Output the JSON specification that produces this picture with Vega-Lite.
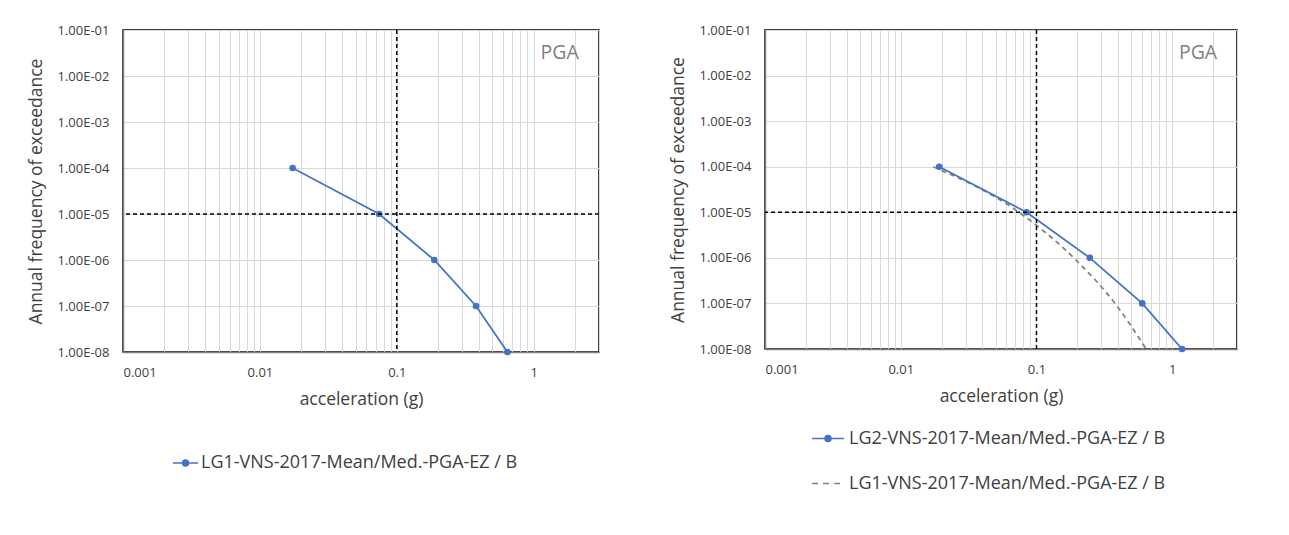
{
  "$schema": "https://vega.github.io/schema/vega-lite/v6.json",
  "padding": {"top": 23, "left": 26, "right": 0, "bottom": 0},
  "background": "#ffffff",
  "config": {
    "font": "Open Sans",
    "view": {"stroke": "#000000", "strokeWidth": 1.5},
    "axis": {
      "gridColor": "#d9d9d9", "gridWidth": 1, "domainColor": "#808080", "domainWidth": 1.5,
      "ticks": false, "labelFont": "Open Sans", "labelFontSize": 13, "labelColor": "#404040",
      "titleFont": "Open Sans", "titleFontSize": 17.5, "titleFontWeight": "normal", "titleColor": "#404040",
      "labelOverlap": false
    },
    "legend": {"labelFont": "Open Sans", "labelFontSize": 18, "labelColor": "#404040", "labelLimit": 0, "padding": 0}
  },
  "datasets": {
    "lg1": [
      {"a": 0.01735, "f": 1e-4, "series": "LG1-VNS-2017-Mean/Med.-PGA-EZ / B"},
      {"a": 0.0743, "f": 1e-5, "series": "LG1-VNS-2017-Mean/Med.-PGA-EZ / B"},
      {"a": 0.188, "f": 1e-6, "series": "LG1-VNS-2017-Mean/Med.-PGA-EZ / B"},
      {"a": 0.379, "f": 1e-7, "series": "LG1-VNS-2017-Mean/Med.-PGA-EZ / B"},
      {"a": 0.643, "f": 1e-8, "series": "LG1-VNS-2017-Mean/Med.-PGA-EZ / B"}
    ],
    "lg2": [
      {"a": 0.0192, "f": 1e-4, "series": "LG2-VNS-2017-Mean/Med.-PGA-EZ / B"},
      {"a": 0.0845, "f": 1e-5, "series": "LG2-VNS-2017-Mean/Med.-PGA-EZ / B"},
      {"a": 0.247, "f": 1e-6, "series": "LG2-VNS-2017-Mean/Med.-PGA-EZ / B"},
      {"a": 0.601, "f": 1e-7, "series": "LG2-VNS-2017-Mean/Med.-PGA-EZ / B"},
      {"a": 1.18, "f": 1e-8, "series": "LG2-VNS-2017-Mean/Med.-PGA-EZ / B"}
    ],
    "vref": [{"a": 0.1}],
    "href": [{"f": 1e-5}]
  },
  "resolve": {"scale": {"color": "independent", "stroke": "independent", "x": "independent", "y": "independent"}, "legend": {"color": "independent", "stroke": "independent"}},
  "spacing": 67,
  "hconcat": [
    {
      "width": 476, "height": 322,
      "layer": [
        {
          "data": {"name": "lg1"},
          "mark": {"type": "line", "strokeWidth": 1.75, "point": {"filled": true, "size": 44}},
          "encoding": {
            "x": {"field": "a", "type": "quantitative",
              "scale": {"type": "log", "domain": [0.001, 3], "nice": false},
              "axis": {"title": "acceleration (g)", "values": [0.001,0.002,0.003,0.004,0.005,0.006,0.007,0.008,0.009,0.01,0.02,0.03,0.04,0.05,0.06,0.07,0.08,0.09,0.1,0.2,0.3,0.4,0.5,0.6,0.7,0.8,0.9,1,2,3],
                "labelExpr": "abs(log(datum.value)/LN10 - round(log(datum.value)/LN10)) < 1e-6 ? '' + datum.value : ''",
                "labelPadding": 14, "titlePadding": 11}},
            "y": {"field": "f", "type": "quantitative",
              "scale": {"type": "log", "domain": [1e-8, 0.1], "nice": false},
              "axis": {"title": "Annual  frequency of exceedance", "values": [1e-1,1e-2,1e-3,1e-4,1e-5,1e-6,1e-7,1e-8],
                "labelExpr": "'1.00E-0' + round(-log(datum.value)/LN10)", "labelPadding": 14, "titlePadding": 12}},
            "color": {"field": "series", "type": "nominal", "scale": {"range": ["#4472C4"]},
              "legend": {"title": null, "orient": "none", "legendX": 49, "legendY": 419.5,
                "symbolType": "M-1,0H1M-0.24,0A0.24,0.24,0,1,1,0.24,0A0.24,0.24,0,1,1,-0.24,0Z",
                "symbolSize": 625, "symbolStrokeWidth": 1.5, "symbolFillColor": "#4472C4", "labelOffset": 2}}
          }
        },
        {
          "data": {"name": "vref"},
          "mark": {"type": "rule", "color": "#000000", "strokeWidth": 1.5, "strokeDash": [4, 3]},
          "encoding": {"x": {"field": "a", "type": "quantitative", "scale": {"type": "log", "domain": [0.001, 3], "nice": false}}}
        },
        {
          "data": {"name": "href"},
          "mark": {"type": "rule", "color": "#000000", "strokeWidth": 1.5, "strokeDash": [4, 3]},
          "encoding": {"y": {"field": "f", "type": "quantitative", "scale": {"type": "log", "domain": [1e-8, 0.1], "nice": false}}}
        },
        {
          "data": {"values": [{}]},
          "mark": {"type": "text", "fontSize": 19.5, "color": "#7f7f7f", "align": "center", "baseline": "middle", "font": "Open Sans"},
          "encoding": {
            "x": {"datum": 1.55, "type": "quantitative", "scale": {"type": "log", "domain": [0.001, 3], "nice": false}},
            "y": {"datum": 0.032, "type": "quantitative", "scale": {"type": "log", "domain": [1e-8, 0.1], "nice": false}},
            "text": {"value": "PGA"}
          }
        }
      ]
    },
    {
      "width": 472, "height": 319,
      "layer": [
        {
          "data": {"name": "lg1"},
          "mark": {"type": "line", "strokeWidth": 1.75, "strokeDash": [5, 4], "interpolate": "monotone"},
          "encoding": {
            "x": {"field": "a", "type": "quantitative",
              "scale": {"type": "log", "domain": [0.001, 3], "nice": false},
              "axis": {"title": "acceleration (g)", "values": [0.001,0.002,0.003,0.004,0.005,0.006,0.007,0.008,0.009,0.01,0.02,0.03,0.04,0.05,0.06,0.07,0.08,0.09,0.1,0.2,0.3,0.4,0.5,0.6,0.7,0.8,0.9,1,2,3],
                "labelExpr": "abs(log(datum.value)/LN10 - round(log(datum.value)/LN10)) < 1e-6 ? '' + datum.value : ''",
                "labelPadding": 14, "titlePadding": 11}},
            "y": {"field": "f", "type": "quantitative",
              "scale": {"type": "log", "domain": [1e-8, 0.1], "nice": false},
              "axis": {"title": "Annual  frequency of exceedance", "values": [1e-1,1e-2,1e-3,1e-4,1e-5,1e-6,1e-7,1e-8],
                "labelExpr": "'1.00E-0' + round(-log(datum.value)/LN10)", "labelPadding": 14, "titlePadding": 12}},
            "stroke": {"field": "series", "type": "nominal", "scale": {"range": ["#808080"]},
              "legend": {"title": null, "orient": "none", "legendX": 46, "legendY": 436.5,
                "symbolType": "stroke", "symbolSize": 1024, "symbolStrokeWidth": 1.5, "symbolDash": [6, 5], "labelOffset": 4}}
          }
        },
        {
          "data": {"name": "lg2"},
          "mark": {"type": "line", "strokeWidth": 1.75, "point": {"filled": true, "size": 44}},
          "encoding": {
            "x": {"field": "a", "type": "quantitative", "scale": {"type": "log", "domain": [0.001, 3], "nice": false}},
            "y": {"field": "f", "type": "quantitative", "scale": {"type": "log", "domain": [1e-8, 0.1], "nice": false}},
            "color": {"field": "series", "type": "nominal", "scale": {"range": ["#4472C4"]},
              "legend": {"title": null, "orient": "none", "legendX": 46, "legendY": 391.5,
                "symbolType": "M-1,0H1M-0.19,0A0.19,0.19,0,1,1,0.19,0A0.19,0.19,0,1,1,-0.19,0Z",
                "symbolSize": 1024, "symbolStrokeWidth": 1.5, "symbolFillColor": "#4472C4", "labelOffset": 4}}
          }
        },
        {
          "data": {"name": "vref"},
          "mark": {"type": "rule", "color": "#000000", "strokeWidth": 1.5, "strokeDash": [4, 3]},
          "encoding": {"x": {"field": "a", "type": "quantitative", "scale": {"type": "log", "domain": [0.001, 3], "nice": false}}}
        },
        {
          "data": {"name": "href"},
          "mark": {"type": "rule", "color": "#000000", "strokeWidth": 1.5, "strokeDash": [4, 3]},
          "encoding": {"y": {"field": "f", "type": "quantitative", "scale": {"type": "log", "domain": [1e-8, 0.1], "nice": false}}}
        },
        {
          "data": {"values": [{}]},
          "mark": {"type": "text", "fontSize": 19.5, "color": "#7f7f7f", "align": "center", "baseline": "middle", "font": "Open Sans"},
          "encoding": {
            "x": {"datum": 1.55, "type": "quantitative", "scale": {"type": "log", "domain": [0.001, 3], "nice": false}},
            "y": {"datum": 0.032, "type": "quantitative", "scale": {"type": "log", "domain": [1e-8, 0.1], "nice": false}},
            "text": {"value": "PGA"}
          }
        }
      ]
    }
  ]
}
